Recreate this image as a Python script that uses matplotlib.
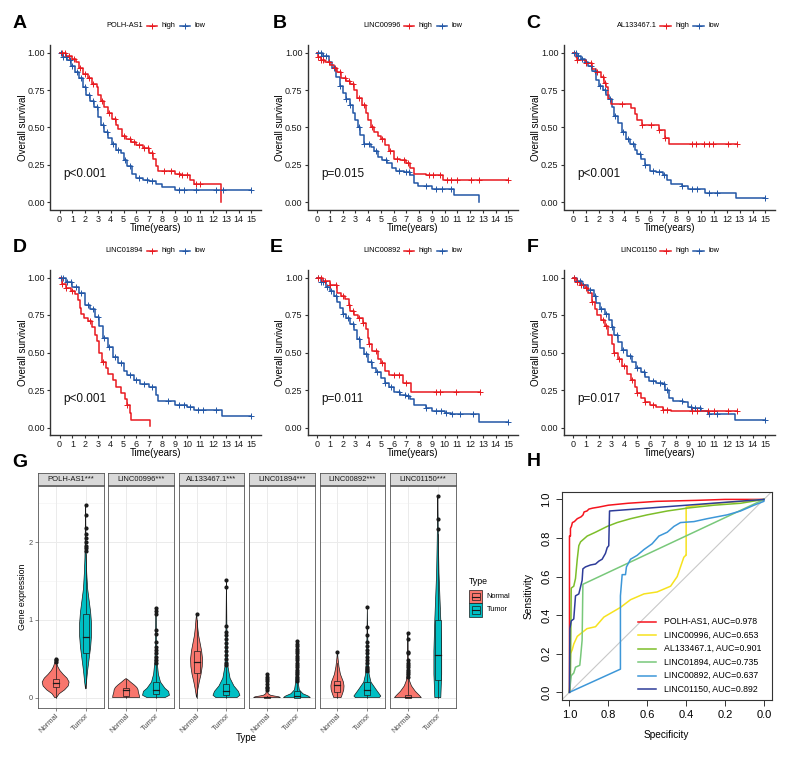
import matplotlib
matplotlib.use('Agg')
import matplotlib.pyplot as plt
from matplotlib.lines import Line2D
from matplotlib.patches import Rectangle
import numpy as np

plt.rcParams['font.family'] = ['Liberation Sans', 'DejaVu Sans']

# ---------------- KM data ----------------
km_genes = ['POLH-AS1', 'LINC00996', 'AL133467.1', 'LINC01894', 'LINC00892', 'LINC01150']
km_pvals = ['p<0.001', 'p=0.015', 'p<0.001', 'p<0.001', 'p=0.011', 'p=0.017']
km_letters = ['A', 'B', 'C', 'D', 'E', 'F']
km_xticks = list(range(16))
km_yticks = [0.0, 0.25, 0.50, 0.75, 1.00]

A_high_t = [0, 0.5, 1.0, 1.3, 1.5, 1.8, 2.2, 2.5, 2.9, 3.0, 3.2, 3.5, 3.8, 4.1, 4.4, 4.6, 4.9, 5.2, 5.6, 6.0, 6.5, 7.0, 7.3, 7.5, 7.7, 9.0, 9.5, 10.2, 10.5, 12.65, 12.65]
A_high_s = [1.0, 0.98, 0.96, 0.94, 0.90, 0.86, 0.83, 0.79, 0.77, 0.72, 0.68, 0.64, 0.60, 0.56, 0.52, 0.49, 0.44, 0.42, 0.40, 0.38, 0.36, 0.33, 0.29, 0.24, 0.21, 0.19, 0.18, 0.15, 0.12, 0.12, 0.0]
A_low_t = [0, 0.3, 0.6, 0.9, 1.2, 1.5, 1.8, 2.1, 2.4, 2.7, 3.0, 3.2, 3.5, 3.8, 4.1, 4.4, 4.8, 5.0, 5.3, 5.7, 6.0, 6.5, 7.0, 7.5, 8.0, 9.0, 15.0]
A_low_s = [1.0, 0.97, 0.95, 0.91, 0.87, 0.83, 0.77, 0.72, 0.68, 0.64, 0.57, 0.52, 0.47, 0.43, 0.39, 0.35, 0.33, 0.28, 0.24, 0.19, 0.16, 0.15, 0.14, 0.12, 0.10, 0.08, 0.08]
A_high_c = [0.2, 0.4, 0.7, 1.1, 1.6, 2.0, 2.3, 2.6, 3.3, 3.9, 4.3, 5.0, 5.5, 5.8, 6.2, 6.6, 6.9, 7.2, 8.2, 8.7, 9.3, 9.6, 10.0, 10.7, 11.0]
A_low_c = [0.1, 0.3, 0.5, 0.8, 1.0, 1.4, 1.7, 2.0, 2.3, 2.6, 2.9, 3.4, 3.7, 4.2, 4.6, 5.1, 5.5, 6.2, 6.8, 7.2, 9.3, 9.7, 10.7, 12.2, 12.8, 15.0]

B_high_t = [0, 0.1, 0.3, 0.6, 1.0, 1.3, 1.6, 1.9, 2.3, 2.6, 2.9, 3.1, 3.5, 3.8, 4.0, 4.2, 4.5, 4.8, 5.0, 5.3, 5.6, 6.0, 6.5, 7.0, 7.3, 7.6, 8.5, 9.9, 15.0]
B_high_s = [1.0, 0.97, 0.95, 0.94, 0.92, 0.90, 0.87, 0.83, 0.81, 0.79, 0.75, 0.70, 0.65, 0.60, 0.55, 0.50, 0.47, 0.44, 0.42, 0.38, 0.34, 0.29, 0.28, 0.26, 0.23, 0.19, 0.18, 0.15, 0.15]
B_low_t = [0, 0.5, 0.9, 1.2, 1.5, 1.8, 2.0, 2.3, 2.6, 2.8, 3.0, 3.2, 3.4, 3.7, 4.2, 4.5, 4.8, 5.1, 5.5, 5.9, 6.2, 6.8, 7.3, 7.6, 7.9, 9.0, 10.7, 12.7, 12.7]
B_low_s = [1.0, 0.98, 0.94, 0.90, 0.84, 0.78, 0.73, 0.69, 0.65, 0.60, 0.55, 0.50, 0.45, 0.39, 0.37, 0.34, 0.30, 0.28, 0.26, 0.23, 0.21, 0.20, 0.18, 0.13, 0.11, 0.09, 0.05, 0.05, 0.0]
B_high_c = [0.1, 0.3, 0.5, 0.9, 1.4, 1.8, 2.2, 2.5, 2.8, 3.3, 3.7, 4.3, 5.1, 5.7, 6.3, 6.8, 7.1, 8.8, 9.1, 9.6, 10.2, 10.5, 11.0, 12.1, 12.7, 15.0]
B_low_c = [0.1, 0.3, 0.5, 0.7, 1.3, 1.8, 2.3, 2.6, 3.3, 3.7, 4.1, 4.6, 5.4, 6.4, 7.0, 7.2, 8.5, 9.3, 9.8, 10.5]

C_high_t = [0, 0.2, 0.3, 1.0, 1.5, 1.8, 2.2, 2.4, 2.6, 2.7, 2.95, 4.55, 4.8, 5.0, 5.4, 6.7, 7.2, 7.45, 12.8]
C_high_s = [1.0, 0.97, 0.95, 0.93, 0.89, 0.87, 0.84, 0.80, 0.77, 0.69, 0.66, 0.63, 0.59, 0.55, 0.52, 0.48, 0.43, 0.39, 0.39]
C_low_t = [0, 0.3, 0.6, 0.9, 1.2, 1.5, 1.8, 2.0, 2.3, 2.6, 2.8, 3.0, 3.2, 3.5, 3.8, 4.1, 4.4, 4.8, 5.0, 5.3, 5.6, 6.0, 6.5, 7.0, 7.3, 7.6, 8.5, 9.0, 10.3, 12.7, 15.0]
C_low_s = [1.0, 0.98, 0.96, 0.94, 0.91, 0.88, 0.82, 0.78, 0.75, 0.72, 0.69, 0.64, 0.58, 0.53, 0.47, 0.42, 0.39, 0.35, 0.32, 0.29, 0.25, 0.21, 0.20, 0.18, 0.15, 0.12, 0.11, 0.09, 0.06, 0.03, 0.03]
C_high_c = [0.3, 1.0, 1.4, 1.9, 2.3, 2.5, 3.8, 5.4, 6.1, 6.7, 7.2, 9.3, 9.6, 10.2, 10.6, 10.9, 12.1, 12.8]
C_low_c = [0.1, 0.2, 0.4, 0.7, 1.0, 1.4, 1.7, 2.1, 2.5, 2.9, 3.3, 3.9, 4.3, 4.7, 5.2, 5.6, 6.2, 6.7, 7.1, 8.5, 9.3, 9.7, 10.6, 11.2, 15.0]

D_high_t = [0, 0.2, 0.5, 0.9, 1.2, 1.45, 1.6, 1.7, 1.9, 2.2, 2.5, 2.8, 2.9, 3.1, 3.3, 3.6, 3.8, 4.2, 4.4, 4.8, 5.1, 5.3, 5.5, 5.6, 7.1, 7.1]
D_high_s = [1.0, 0.96, 0.93, 0.91, 0.89, 0.85, 0.80, 0.76, 0.73, 0.71, 0.67, 0.62, 0.58, 0.50, 0.44, 0.40, 0.36, 0.32, 0.27, 0.23, 0.19, 0.15, 0.10, 0.05, 0.05, 0.01]
D_low_t = [0, 0.5, 1.0, 1.5, 2.0, 2.4, 2.8, 3.1, 3.4, 3.8, 4.2, 4.6, 5.0, 5.3, 5.8, 6.3, 7.0, 7.5, 7.7, 9.0, 10.0, 10.5, 12.7, 12.7, 15.0]
D_low_s = [1.0, 0.97, 0.94, 0.90, 0.82, 0.79, 0.74, 0.68, 0.60, 0.54, 0.47, 0.43, 0.38, 0.35, 0.32, 0.29, 0.27, 0.22, 0.18, 0.15, 0.14, 0.12, 0.12, 0.08, 0.08]
D_high_c = [0.2, 0.5, 1.0, 2.4, 3.4, 5.3]
D_low_c = [0.1, 0.3, 0.6, 0.9, 1.3, 1.7, 2.2, 2.6, 3.0, 3.5, 3.9, 4.3, 4.8, 5.5, 6.0, 6.6, 7.2, 8.5, 9.3, 9.7, 10.2, 10.8, 11.2, 12.2, 15.0]

E_high_t = [0, 0.5, 1.0, 1.6, 1.9, 2.2, 2.5, 2.6, 2.9, 3.2, 3.6, 3.8, 4.0, 4.1, 4.3, 4.8, 5.0, 5.3, 5.6, 6.7, 7.4, 12.8]
E_high_s = [1.0, 0.98, 0.95, 0.90, 0.88, 0.86, 0.82, 0.78, 0.75, 0.73, 0.70, 0.66, 0.60, 0.56, 0.51, 0.46, 0.43, 0.38, 0.35, 0.30, 0.24, 0.24]
E_low_t = [0, 0.3, 0.7, 1.0, 1.3, 1.6, 1.8, 2.0, 2.3, 2.6, 2.9, 3.1, 3.4, 3.7, 4.0, 4.3, 4.6, 5.0, 5.3, 5.6, 6.0, 6.5, 7.0, 7.3, 7.6, 8.5, 9.0, 10.0, 10.5, 12.7, 12.7, 15.0]
E_low_s = [1.0, 0.97, 0.94, 0.91, 0.88, 0.84, 0.80, 0.76, 0.73, 0.69, 0.65, 0.59, 0.53, 0.49, 0.44, 0.40, 0.37, 0.33, 0.30, 0.27, 0.24, 0.22, 0.21, 0.19, 0.15, 0.13, 0.11, 0.10, 0.09, 0.08, 0.04, 0.04]
E_high_c = [0.1, 0.3, 0.6, 1.0, 1.5, 2.0, 2.5, 2.8, 3.3, 3.6, 4.1, 4.6, 5.1, 6.0, 6.4, 7.0, 9.3, 9.6, 10.9, 12.8]
E_low_c = [0.1, 0.3, 0.5, 0.8, 1.1, 1.5, 2.0, 2.4, 2.8, 3.3, 3.8, 4.2, 4.7, 5.3, 5.8, 6.4, 6.9, 7.1, 8.5, 9.3, 9.7, 10.1, 10.6, 11.2, 12.2, 15.0]

F_high_t = [0, 0.2, 0.5, 0.9, 1.2, 1.5, 1.7, 1.9, 2.2, 2.5, 2.7, 3.0, 3.2, 3.5, 3.8, 4.2, 4.5, 4.8, 5.0, 5.3, 5.6, 6.0, 6.5, 7.0, 7.6, 12.8]
F_high_s = [1.0, 0.97, 0.95, 0.93, 0.90, 0.84, 0.79, 0.75, 0.72, 0.68, 0.62, 0.56, 0.50, 0.46, 0.41, 0.36, 0.32, 0.27, 0.23, 0.20, 0.17, 0.15, 0.14, 0.12, 0.11, 0.11]
F_low_t = [0, 0.3, 0.7, 1.2, 1.6, 1.8, 2.1, 2.5, 2.8, 3.0, 3.2, 3.5, 3.8, 4.2, 4.6, 4.9, 5.3, 5.6, 5.9, 6.5, 7.0, 7.2, 7.5, 7.8, 8.6, 9.0, 9.3, 10.0, 10.5, 12.6, 12.6, 15.0]
F_low_s = [1.0, 0.98, 0.95, 0.92, 0.88, 0.83, 0.79, 0.76, 0.72, 0.67, 0.62, 0.57, 0.52, 0.48, 0.44, 0.40, 0.37, 0.34, 0.31, 0.30, 0.29, 0.25, 0.20, 0.18, 0.17, 0.14, 0.13, 0.11, 0.09, 0.09, 0.05, 0.05]
F_high_c = [0.1, 0.3, 0.6, 1.0, 1.5, 2.3, 2.6, 3.2, 3.6, 4.0, 4.6, 5.0, 5.6, 6.2, 7.0, 7.3, 9.3, 9.7, 10.5, 11.0, 12.1, 12.8]
F_low_c = [0.1, 0.3, 0.5, 0.8, 1.3, 1.7, 2.2, 2.6, 3.0, 3.4, 3.9, 4.4, 5.0, 5.5, 6.2, 6.8, 7.1, 7.3, 8.5, 9.2, 9.5, 9.9, 10.6, 11.2, 15.0]

# ---------------- Violin data ----------------
vio_strips = ['POLH-AS1***', 'LINC00996***', 'AL133467.1***', 'LINC01894***', 'LINC00892***', 'LINC01150***']
vio_groups = ['Normal', 'Tumor']
vio_yticks = [0, 1, 2]

N1_y = [0, 0.05, 0.1, 0.15, 0.2, 0.25, 0.3, 0.35, 0.4, 0.45, 0.5, 0.51]
N1_w = [0.03, 0.12, 0.30, 0.42, 0.45, 0.38, 0.25, 0.14, 0.07, 0.03, 0.01, 0.0]
N1_box = [0.0, 0.14, 0.19, 0.24, 0.43]
N1_out = [0.46, 0.48, 0.5]
T1_y = [0.11, 0.2, 0.35, 0.5, 0.65, 0.8, 0.95, 1.1, 1.25, 1.4, 1.6, 1.8, 2.0, 2.2, 2.47]
T1_w = [0.0, 0.03, 0.07, 0.12, 0.17, 0.20, 0.20, 0.17, 0.12, 0.07, 0.04, 0.02, 0.012, 0.008, 0.0]
T1_box = [0.12, 0.58, 0.78, 1.08, 1.85]
T1_out = [1.89, 1.93, 1.95, 2.0, 2.05, 2.1, 2.18, 2.35, 2.48]

N2_y = [0, 0.03, 0.07, 0.1, 0.13, 0.16, 0.2, 0.23, 0.245]
N2_w = [0.45, 0.44, 0.41, 0.40, 0.36, 0.28, 0.15, 0.06, 0.0]
N2_box = [0.0, 0.02, 0.095, 0.12, 0.245]
N2_out = []
T2_y = [0, 0.03, 0.08, 0.12, 0.2, 0.3, 0.45, 0.6, 0.8, 1.0, 1.15]
T2_w = [0.30, 0.45, 0.42, 0.30, 0.15, 0.08, 0.04, 0.025, 0.015, 0.01, 0.0]
T2_box = [0.0, 0.05, 0.1, 0.2, 0.42]
T2_out = [0.44, 0.48, 0.52, 0.57, 0.61, 0.65, 0.72, 0.82, 0.87, 1.07, 1.11, 1.15]

N3_y = [0, 0.1, 0.2, 0.3, 0.4, 0.5, 0.6, 0.7, 0.8, 0.9, 1.0, 1.075]
N3_w = [0.0, 0.04, 0.09, 0.15, 0.19, 0.20, 0.17, 0.12, 0.07, 0.04, 0.02, 0.0]
N3_box = [0.0, 0.32, 0.46, 0.60, 1.0]
N3_out = [1.075]
T3_y = [0, 0.03, 0.08, 0.15, 0.25, 0.4, 0.6, 0.9, 1.2, 1.51]
T3_w = [0.35, 0.45, 0.40, 0.25, 0.12, 0.05, 0.03, 0.015, 0.008, 0.0]
T3_box = [0.0, 0.03, 0.085, 0.18, 0.4]
T3_out = [0.42, 0.45, 0.5, 0.55, 0.6, 0.65, 0.7, 0.76, 0.8, 0.85, 0.92, 1.42, 1.51]

N4_y = [0, 0.01, 0.02, 0.03, 0.05, 0.1, 0.2, 0.3]
N4_w = [0.45, 0.40, 0.25, 0.12, 0.04, 0.015, 0.008, 0.0]
N4_box = [0.0, 0.0, 0.005, 0.01, 0.025]
N4_out = [0.1, 0.12, 0.14, 0.17, 0.21, 0.24, 0.27, 0.3]
T4_y = [0, 0.02, 0.05, 0.1, 0.2, 0.4, 0.6, 0.73]
T4_w = [0.45, 0.38, 0.2, 0.08, 0.04, 0.02, 0.01, 0.0]
T4_box = [0.0, 0.0, 0.02, 0.085, 0.2]
T4_out = [0.21, 0.24, 0.27, 0.3, 0.33, 0.36, 0.39, 0.42, 0.45, 0.48, 0.51, 0.54, 0.57, 0.6, 0.63, 0.66, 0.69, 0.73]

N5_y = [0, 0.05, 0.1, 0.15, 0.2, 0.25, 0.3, 0.4, 0.5, 0.59]
N5_w = [0.12, 0.17, 0.21, 0.22, 0.2, 0.15, 0.1, 0.05, 0.02, 0.0]
N5_box = [0.0, 0.07, 0.16, 0.22, 0.45]
N5_out = [0.59]
T5_y = [0, 0.02, 0.1, 0.2, 0.3, 0.5, 0.8, 1.17]
T5_w = [0.40, 0.45, 0.30, 0.12, 0.06, 0.03, 0.012, 0.0]
T5_box = [0.0, 0.03, 0.1, 0.2, 0.3]
T5_out = [0.34, 0.37, 0.4, 0.44, 0.48, 0.52, 0.57, 0.61, 0.66, 0.72, 0.8, 0.91, 1.17]

N6_y = [0, 0.03, 0.08, 0.15, 0.22, 0.3, 0.45, 0.6, 0.83]
N6_w = [0.45, 0.38, 0.25, 0.12, 0.05, 0.03, 0.015, 0.008, 0.0]
N6_box = [0.0, 0.0, 0.005, 0.03, 0.25]
N6_out = [0.27, 0.3, 0.33, 0.36, 0.39, 0.42, 0.45, 0.48, 0.57, 0.59, 0.75, 0.83]
T6_y = [0, 0.3, 0.6, 1.0, 1.3, 1.6, 2.0, 2.3, 2.6]
T6_w = [0.10, 0.13, 0.13, 0.10, 0.07, 0.04, 0.02, 0.01, 0.0]
T6_box = [0.0, 0.23, 0.55, 1.0, 2.1]
T6_out = [2.17, 2.3, 2.6]

# ---------------- ROC data ----------------
roc_labels = ['POLH-AS1, AUC=0.978', 'LINC00996, AUC=0.653', 'AL133467.1, AUC=0.901',
              'LINC01894, AUC=0.735', 'LINC00892, AUC=0.637', 'LINC01150, AUC=0.892']
roc_ticks = [1.0, 0.8, 0.6, 0.4, 0.2, 0.0]
R1_spec = [1.0, 1.0, 0.995, 0.995, 0.99, 0.985, 0.975, 0.97, 0.96, 0.95, 0.94, 0.93, 0.925, 0.91, 0.9, 0.88, 0.85, 0.8, 0.7, 0.55, 0.35, 0.2, 0.0]
R1_sens = [0.0, 0.81, 0.81, 0.85, 0.86, 0.88, 0.885, 0.89, 0.9, 0.905, 0.91, 0.92, 0.935, 0.94, 0.95, 0.955, 0.96, 0.97, 0.98, 0.99, 0.995, 1.0, 1.0]
R2_spec = [1.0, 0.995, 0.986, 0.978, 0.96, 0.935, 0.91, 0.866, 0.823, 0.772, 0.738, 0.686, 0.617, 0.55, 0.48, 0.446, 0.412, 0.402, 0.4, 0.4, 0.3, 0.0]
R2_sens = [0.0, 0.2, 0.22, 0.25, 0.29, 0.31, 0.33, 0.34, 0.39, 0.42, 0.44, 0.48, 0.51, 0.52, 0.55, 0.6, 0.7, 0.71, 0.71, 0.96, 0.975, 1.0]
R3_spec = [1.0, 0.995, 0.991, 0.978, 0.969, 0.96, 0.952, 0.943, 0.909, 0.866, 0.806, 0.755, 0.686, 0.6, 0.497, 0.394, 0.257, 0.12, 0.0]
R3_sens = [0.0, 0.086, 0.54, 0.55, 0.59, 0.69, 0.76, 0.78, 0.81, 0.83, 0.86, 0.88, 0.9, 0.92, 0.94, 0.955, 0.97, 0.98, 1.0]
R4_spec = [1.0, 0.991, 0.978, 0.969, 0.947, 0.943, 0.935, 0.931, 0.0]
R4_sens = [0.0, 0.086, 0.1, 0.13, 0.14, 0.18, 0.27, 0.56, 1.0]
R5_spec = [1.0, 0.738, 0.738, 0.729, 0.712, 0.707, 0.686, 0.652, 0.617, 0.575, 0.54, 0.497, 0.463, 0.429, 0.36, 0.292, 0.189, 0.12, 0.051, 0.0, 0.0]
R5_sens = [0.0, 0.12, 0.5, 0.61, 0.61, 0.65, 0.69, 0.71, 0.74, 0.77, 0.81, 0.83, 0.86, 0.88, 0.885, 0.9, 0.92, 0.94, 0.97, 0.99, 1.0]
R6_spec = [1.0, 0.998, 0.991, 0.978, 0.969, 0.952, 0.935, 0.931, 0.918, 0.892, 0.866, 0.849, 0.832, 0.815, 0.806, 0.798, 0.794, 0.0]
R6_sens = [0.0, 0.33, 0.37, 0.38, 0.5, 0.51, 0.58, 0.64, 0.65, 0.66, 0.665, 0.68, 0.69, 0.72, 0.75, 0.76, 0.94, 1.0]

# ---------------- helpers ----------------
W, H = 789, 758
fig = plt.figure(figsize=(W / 100, H / 100), dpi=100)


def rect(x0, y0, x1, y1):
    return [x0 / W, 1 - y1 / H, (x1 - x0) / W, (y1 - y0) / H]


def fx(x):
    return x / W


def fy(y):
    return 1 - y / H


RED = '#E8191F'
BLUE = '#2256A6'
AX_COL = '#333333'


def km_panel(idx, box_px, curves, letter_xy, leg_y):
    x0, y0, x1, y1 = box_px
    ax = fig.add_axes(rect(*box_px))
    for t, s, c, col in curves:
        t = np.asarray(t)
        s = np.asarray(s)
        ax.plot(t, s, drawstyle='steps-post', color=col, lw=1.1, zorder=3)
        ci = np.asarray(c)
        idxs = np.searchsorted(t, ci, side='right') - 1
        ax.plot(ci, s[idxs], ls='none', marker='+', ms=4, mew=0.7, color=col, zorder=4)
    ax.set_xlim(-0.75, 15.75)
    ax.set_ylim(-0.05, 1.05)
    ax.set_xticks(km_xticks)
    ax.set_xticklabels([str(v) for v in km_xticks])
    ax.set_yticks(km_yticks)
    ax.set_yticklabels(['%.2f' % v for v in km_yticks])
    for sp in ['top', 'right']:
        ax.spines[sp].set_visible(False)
    for sp in ['left', 'bottom']:
        ax.spines[sp].set_color(AX_COL)
        ax.spines[sp].set_linewidth(1.0)
    ax.tick_params(labelsize=6.5, length=2.5, width=0.8, color=AX_COL, pad=1.2, labelcolor='#1a1a1a')
    ax.text(0.3, 0.19, km_pvals[idx], fontsize=8.5, ha='left', va='center', color='#111111')
    cx = (x0 + x1) / 2
    cy = (y0 + y1) / 2
    fig.text(fx(22.7 + (x0 - 50)), fy(cy), 'Overall survival', rotation=90, ha='center', va='center', fontsize=7)
    fig.text(fx(cx), fy(y1 + 18.5), 'Time(years)', ha='center', va='center', fontsize=7)
    fig.text(fx(letter_xy[0]), fy(letter_xy[1]), km_letters[idx], fontsize=14, fontweight='bold', ha='center', va='center')
    # legend
    fig.text(fx(cx - 12.5), fy(leg_y), km_genes[idx], fontsize=5.3, ha='right', va='center')
    for (lx0, lx1, col, lab) in [(cx - 9, cx + 1.5, RED, 'high'), (cx + 24, cx + 34.5, BLUE, 'low')]:
        fig.add_artist(Line2D([fx(lx0), fx(lx1)], [fy(leg_y), fy(leg_y)], color=col, lw=1.1))
        fig.add_artist(Line2D([fx((lx0 + lx1) / 2)], [fy(leg_y)], marker='+', ms=4, mew=0.7, color=col))
        fig.text(fx(lx1 + 4.5), fy(leg_y), lab, fontsize=5.3, ha='left', va='center')
    return ax


km_data = [
    ((A_high_t, A_high_s, A_high_c), (A_low_t, A_low_s, A_low_c)),
    ((B_high_t, B_high_s, B_high_c), (B_low_t, B_low_s, B_low_c)),
    ((C_high_t, C_high_s, C_high_c), (C_low_t, C_low_s, C_low_c)),
    ((D_high_t, D_high_s, D_high_c), (D_low_t, D_low_s, D_low_c)),
    ((E_high_t, E_high_s, E_high_c), (E_low_t, E_low_s, E_low_c)),
    ((F_high_t, F_high_s, F_high_c), (F_low_t, F_low_s, F_low_c)),
]
col_x = [(50, 261), (307.5, 518), (563.5, 775)]
row_y = [(45.5, 209.5), (270, 435)]
letter_pos = [(19.5, 23.7), (280, 23.7), (533.5, 23.7), (20, 248), (276.5, 248), (532.5, 248)]
leg_ys = [25.5, 250.5]
for i in range(6):
    r, c = divmod(i, 3)
    hi, lo = km_data[i]
    km_panel(i, (col_x[c][0], row_y[r][0], col_x[c][1], row_y[r][1]),
             [(lo[0], lo[1], lo[2], BLUE), (hi[0], hi[1], hi[2], RED)],
             letter_pos[i], leg_ys[r])

# ---------------- Violin panel G ----------------
NORM_COL = '#F8766D'
TUM_COL = '#00BFC4'
vio_sets = [
    ((N1_y, N1_w, N1_box, N1_out), (T1_y, T1_w, T1_box, T1_out)),
    ((N2_y, N2_w, N2_box, N2_out), (T2_y, T2_w, T2_box, T2_out)),
    ((N3_y, N3_w, N3_box, N3_out), (T3_y, T3_w, T3_box, T3_out)),
    ((N4_y, N4_w, N4_box, N4_out), (T4_y, T4_w, T4_box, T4_out)),
    ((N5_y, N5_w, N5_box, N5_out), (T5_y, T5_w, T5_box, T5_out)),
    ((N6_y, N6_w, N6_box, N6_out), (T6_y, T6_w, T6_box, T6_out)),
]
all_vals = []
for nset, tset in vio_sets:
    for st in (nset, tset):
        all_vals += list(st[0]) + list(st[3])
vmax, vmin = max(all_vals), min(all_vals)
pad = 0.05 * (vmax - vmin)
ylo, yhi = vmin - pad, vmax + pad

for i in range(6):
    x0 = 37.7 + i * 70.45
    x1 = x0 + 65.8
    ax = fig.add_axes(rect(x0, 485.5, x1, 707.7))
    ax.set_xlim(0.4, 2.6)
    ax.set_ylim(ylo, yhi)
    ax.set_facecolor('white')
    for v in [0.5, 1.5, 2.5]:
        ax.axhline(v, color='#F2F2F2', lw=0.4, zorder=0)
    for v in vio_yticks:
        ax.axhline(v, color='#EBEBEB', lw=0.7, zorder=0)
    for v in [1, 2]:
        ax.axvline(v, color='#EBEBEB', lw=0.7, zorder=0)
    for pos, (st, col) in enumerate(zip(vio_sets[i], [NORM_COL, TUM_COL]), start=1):
        py, pw, bx, out = st
        py = np.asarray(py)
        pw = np.asarray(pw)
        xs = np.concatenate([pos - pw, (pos + pw)[::-1]])
        ys = np.concatenate([py, py[::-1]])
        ax.fill(xs, ys, facecolor=col, edgecolor='#1a1a1a', lw=0.5, zorder=2)
        wlo, q1, med, q3, whi = bx
        ax.plot([pos, pos], [wlo, q1], color='#1a1a1a', lw=0.5, zorder=3)
        ax.plot([pos, pos], [q3, whi], color='#1a1a1a', lw=0.5, zorder=3)
        ax.add_patch(Rectangle((pos - 0.1, q1), 0.2, q3 - q1, facecolor=col,
                               edgecolor='#1a1a1a', lw=0.5, zorder=3))
        ax.plot([pos - 0.1, pos + 0.1], [med, med], color='#1a1a1a', lw=0.9, zorder=4)
        if len(out):
            ax.plot([pos] * len(out), out, ls='none', marker='o', ms=2.0, color='#1a1a1a', zorder=5)
    for sp in ax.spines.values():
        sp.set_color('#555555')
        sp.set_linewidth(0.6)
    ax.set_xticks([1, 2])
    ax.set_xticklabels(vio_groups, rotation=45, ha='right', va='top', rotation_mode='anchor',
                       fontsize=5.5, color='#4D4D4D')
    ax.tick_params(axis='x', length=2, width=0.5, color='#555555', pad=1.5)
    if i == 0:
        ax.set_yticks(vio_yticks)
        ax.set_yticklabels([str(v) for v in vio_yticks], fontsize=5.3, color='#4D4D4D')
        ax.tick_params(axis='y', length=2, width=0.5, color='#555555', pad=1.5)
    else:
        ax.set_yticks(vio_yticks)
        ax.tick_params(axis='y', length=0, labelleft=False)
    sax = fig.add_axes(rect(x0, 473.3, x1, 485.5))
    sax.set_facecolor('#D9D9D9')
    sax.set_xticks([])
    sax.set_yticks([])
    for sp in sax.spines.values():
        sp.set_color('#555555')
        sp.set_linewidth(0.6)
    sax.text(0.5, 0.5, vio_strips[i], ha='center', va='center', fontsize=5.5, color='#1a1a1a',
             transform=sax.transAxes)

fig.text(fx(22.7), fy(596.6), 'Gene expression', rotation=90, ha='center', va='center', fontsize=6.3)
fig.text(fx(246.7), fy(738), 'Type', ha='center', va='center', fontsize=7)
fig.text(fx(20), fy(462), 'G', fontsize=14, fontweight='bold', ha='center', va='center')

# legend "Type"
fig.text(fx(469), fy(582), 'Type', ha='left', va='center', fontsize=6.3)
for k, (lab, col) in enumerate(zip(vio_groups, [NORM_COL, TUM_COL])):
    ky0 = 590 + k * 13.3
    fig.add_artist(Rectangle((fx(469), fy(ky0 + 13.3)), (482 - 469) / W, 13.3 / H,
                             facecolor=col, edgecolor='#1a1a1a', lw=0.5, transform=fig.transFigure))
    fig.add_artist(Rectangle((fx(471.5), fy(ky0 + 10.3)), (479.5 - 471.5) / W, 7.3 / H,
                             facecolor=col, edgecolor='#1a1a1a', lw=0.5, transform=fig.transFigure))
    fig.add_artist(Line2D([fx(471.5), fx(479.5)], [fy(ky0 + 6.65)] * 2, color='#1a1a1a', lw=0.8))
    fig.text(fx(486.5), fy(ky0 + 6.65), lab, ha='left', va='center', fontsize=5.3)

# ---------------- ROC panel H ----------------
ROC_COLS = ['#F5141E', '#F6E21E', '#7DBE2A', '#78C87A', '#3D97D8', '#2E3C99']
axr = fig.add_axes(rect(561.7, 491.7, 771.7, 700))
axr.set_xlim(1.04, -0.04)
axr.set_ylim(-0.04, 1.04)
axr.axline((1.0, 0.0), (0.0, 1.0), color='#C8C8C8', lw=0.8, zorder=1)
for sp_, se_, col in zip([R1_spec, R2_spec, R3_spec, R4_spec, R5_spec, R6_spec],
                         [R1_sens, R2_sens, R3_sens, R4_sens, R5_sens, R6_sens], ROC_COLS):
    axr.plot(sp_, se_, color=col, lw=1.1, zorder=3)
axr.set_xticks(roc_ticks)
axr.set_xticklabels(['%.1f' % v for v in roc_ticks])
axr.set_yticks(roc_ticks)
axr.set_yticklabels(['%.1f' % v for v in roc_ticks], rotation=90, va='center')
axr.tick_params(labelsize=8, length=4, width=0.7, color='#333333', pad=3.5)
for sp in axr.spines.values():
    sp.set_color('#333333')
    sp.set_linewidth(0.8)
fig.text(fx(666.7), fy(735), 'Specificity', ha='center', va='center', fontsize=7.3)
fig.text(fx(528.3), fy(596), 'Sensitivity', rotation=90, ha='center', va='center', fontsize=7.3)
fig.text(fx(533.5), fy(461), 'H', fontsize=14, fontweight='bold', ha='center', va='center')
for k, (lab, col) in enumerate(zip(roc_labels, ROC_COLS)):
    yy = 621.7 + k * 13.5
    fig.add_artist(Line2D([fx(637.7), fx(655.7)], [fy(yy)] * 2, color=col, lw=1.1))
    fig.text(fx(664), fy(yy), lab, ha='left', va='center', fontsize=6.3)

fig.savefig('out.png', dpi=100)
